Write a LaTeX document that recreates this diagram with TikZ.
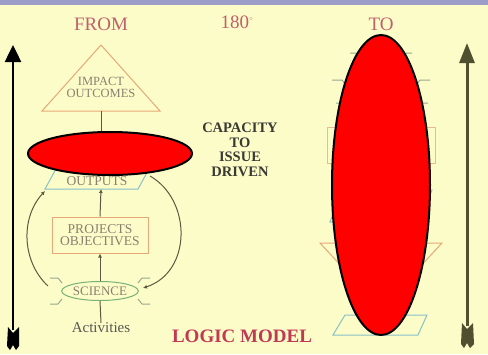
\documentclass[tikz,border=0pt]{standalone}
\usepackage{fontspec}
\setmainfont{Liberation Serif}
\usetikzlibrary{arrows.meta,shapes.geometric}
\definecolor{bgc}{HTML}{FCFCC8}
\definecolor{bandc}{HTML}{9C9CC8}
\definecolor{redtxt}{HTML}{C0606E}
\definecolor{logictxt}{HTML}{C03A55}
\definecolor{orangec}{HTML}{E8A878}
\definecolor{tealc}{HTML}{88C0C8}
\definecolor{greenc}{HTML}{78B078}
\definecolor{markc}{HTML}{98A890}
\definecolor{connc}{HTML}{5A5A40}
\definecolor{darktxt}{HTML}{3A3A35}
\definecolor{innertxt}{HTML}{8A8070}
\definecolor{rarrowc}{HTML}{505030}
\tikzset{
  title/.style={text=redtxt,font=\fontsize{19}{20}\selectfont,inner sep=0pt},
  inner/.style={text=innertxt,font=\fontsize{12.5}{13}\selectfont,inner sep=0pt,align=center},
  conn/.style={draw=connc,line width=1pt,-{Latex[length=4pt,width=4pt]}},
  plain/.style={draw=connc,line width=1pt},
  markline/.style={draw=markc,line width=1pt},
  redell/.style={fill=red,draw=black,line width=2pt},
}
\begin{document}
\begin{tikzpicture}[x=1pt,y=-1pt]
\fill[bgc] (0,0) rectangle (488,354);
\useasboundingbox (0,0) rectangle (488,354);
\fill[bandc] (0,0) rectangle (488,5);

% titles
\node[title] (from) at (101,24) {FROM};
\node[title] (deg) at (237,22) {180\raisebox{0.6ex}{\fontsize{8}{8}\selectfont $^\circ$}};
\node[title] (to) at (381,24) {TO};

% big arrows
\coordinate (la1) at (13,330);
\coordinate (la2) at (13,45);
\draw[line width=2.5pt,-{Triangle[length=17pt,width=16pt]}] (la1) -- (la2);
\fill[black] (8,327)--(13,333)--(19,327)--(19,346)--(16,350)--(13,345)--(10,350)--(7,346)--cycle;
\coordinate (ra1) at (467,326);
\coordinate (ra2) at (467,43);
\draw[rarrowc,line width=3pt,-{Triangle[length=20pt,width=15pt]}] (ra1) -- (ra2);
\fill[rarrowc] (462,323)--(467,329)--(473,323)--(474,344)--(470,348)--(467,343)--(464,348)--(461,344)--cycle;

% left side: FROM
\draw[orangec,line width=1pt] (101,45) -- (160,111) -- (42,111) -- cycle;
\node[inner] (impact) at (101,87) {IMPACT\\[-1pt]OUTCOMES};
\coordinate (impbase) at (101,111);
\coordinate (outtop) at (101,167);
\draw[plain] (impbase) -- (outtop);

\draw[tealc,line width=1pt] (45,189) -- (138,189) -- (150,167) -- (57,167) -- cycle;
\node[inner,font=\fontsize{13.5}{14}\selectfont] (outputs) at (97,181) {OUTPUTS};
\coordinate (outbot) at (101,189);
\coordinate (outl) at (45,191);
\coordinate (outr) at (150,176);

\node[draw=orangec,line width=1pt,minimum width=96pt,minimum height=36pt,inner sep=0pt] (proj) at (100,235) {};
\node[inner,font=\fontsize{13.5}{14}\selectfont] (projtxt) at (100,235) {PROJECTS\\[-2pt]OBJECTIVES};

\node[ellipse,draw=greenc,line width=1pt,minimum width=74pt,minimum height=19pt,inner sep=0pt,text=innertxt,font=\fontsize{13}{13}\selectfont] (sci) at (100,291) {SCIENCE};
\coordinate (scil) at (48,286);
\coordinate (scir) at (143,288);

\node[text=darktxt!85,font=\fontsize{15}{15}\selectfont,inner sep=0pt] (act) at (101,328) {Activities};

\draw[conn] (proj.north) -- (outbot);
\draw[conn] (sci.north) -- (proj.south);
\draw[plain] (act.north) -- (sci.south);

\draw[conn] (scil) .. controls (22,262) and (20,218) .. (outl);
\draw[conn] (outr) .. controls (192,200) and (192,272) .. (scir);

% marks around science
\draw[markline] (50,278) -- (58,278) -- (62,283);
\draw[markline] (50,304) -- (58,304) -- (62,299);
\draw[markline] (150,278) -- (142,278) -- (138,283);
\draw[markline] (150,304) -- (142,304) -- (138,299);

% middle texts
\node[text=darktxt,font=\bfseries\fontsize{14.5}{15}\selectfont,align=center,inner sep=0pt] (cap) at (240,150) {CAPACITY\\[-0.5pt]TO\\[-0.5pt]ISSUE\\[-0.5pt]DRIVEN};
\node[text=logictxt,font=\bfseries\fontsize{19}{20}\selectfont,inner sep=0pt] (logic) at (242,336) {LOGIC MODEL};

% right side: TO
\draw[markline] (350,53) -- (356,53) -- (360,58);
\draw[markline] (412,53) -- (406,53) -- (402,58);
\draw[markline] (332,80) -- (342,80) -- (346,85);
\draw[markline] (430,80) -- (420,80) -- (416,85);
\draw[markline] (336,103) -- (344,103) -- (348,98);
\draw[markline] (428,103) -- (420,103) -- (416,98);
\draw[orangec!80,line width=1pt] (327,127) rectangle (435,163);
\draw[tealc,line width=1pt] (342,190) -- (432,190) -- (420,222) -- (330,222) -- cycle;
\draw[orangec,line width=1pt] (320,243) -- (442,243) -- (381,309) -- cycle;
\draw[tealc,line width=1pt] (333,335) -- (418,335) -- (427,315) -- (345,315) -- cycle;

% red overlays
\draw[redell] (110,153.5) ellipse [x radius=82pt, y radius=21.5pt];
\draw[redell] (381,185) ellipse [x radius=49pt, y radius=150pt];
\end{tikzpicture}
\end{document}
